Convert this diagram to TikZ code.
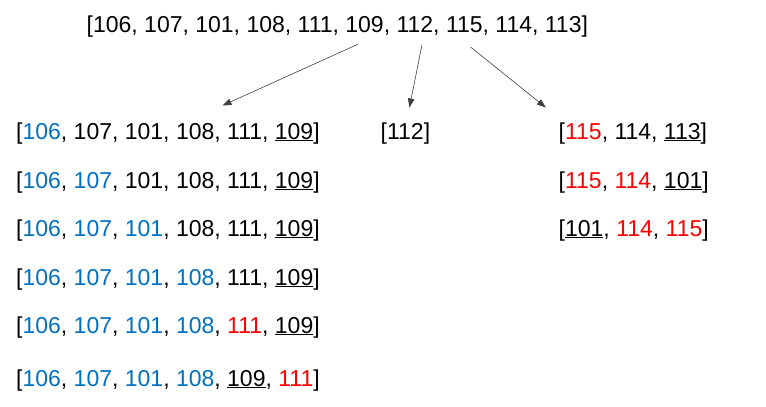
\documentclass[tikz,border=0pt]{standalone}
\usepackage{fontspec}
\setmainfont{Liberation Sans}
\usetikzlibrary{arrows.meta}
\usetikzlibrary{calc}
\definecolor{doneblue}{RGB}{0,112,192}
\newcommand{\bl}[1]{\textcolor{doneblue}{#1}}
\newcommand{\rd}[1]{\textcolor{red}{#1}}
\newcommand{\pv}[1]{\underline{#1}}

\begin{document}
\begin{tikzpicture}[x=1pt,y=-1pt,inner sep=0pt,>={Triangle[length=9pt,width=6.5pt]},
  lst/.style={anchor=base west,font=\fontsize{23}{27}\selectfont},
  split/.style={->,line width=.6pt,black!75}]
\useasboundingbox (0,0) rectangle (766,407);
\node [lst] (All) at (86.5,32) {[106, 107, 101, 108, 111, 109, 112, 115, 114, 113]};
% left part
\node [lst] (L1) at (16,139) {[\bl{106}, 107, 101, 108, 111, \pv{109}]};
\node [lst] (L2) at (16,188) {[\bl{106}, \bl{107}, 101, 108, 111, \pv{109}]};
\node [lst] (L3) at (16,236) {[\bl{106}, \bl{107}, \bl{101}, 108, 111, \pv{109}]};
\node [lst] (L4) at (16,285) {[\bl{106}, \bl{107}, \bl{101}, \bl{108}, 111, \pv{109}]};
\node [lst] (L5) at (16,333) {[\bl{106}, \bl{107}, \bl{101}, \bl{108}, \rd{111}, \pv{109}]};
\node [lst] (L6) at (16,386) {[\bl{106}, \bl{107}, \bl{101}, \bl{108}, \pv{109}, \rd{111}]};
% pivot
\node [lst] (M1) at (380.5,139) {[112]};
% right part
\node [lst] (R1) at (558.5,139) {[\rd{115}, 114, \pv{113}]};
\node [lst] (R2) at (558.5,188) {[\rd{115}, \rd{114}, \pv{101}]};
\node [lst] (R3) at (558.5,236) {[\pv{101}, \rd{114}, \rd{115}]};
\draw [split] ($ (All.south) + (20.5,7.3) $) -- ($ (L1.north) + (54.5,-16.6) $);
\draw [split] ($ (All.south) + (84.5,8.3) $) -- ($ (M1.north) + (4,-14.6) $);
\draw [split] ($ (All.south) + (133.5,10.3) $) -- ($ (R1.north) + (-87,-14.6) $);
\end{tikzpicture}
\end{document}
